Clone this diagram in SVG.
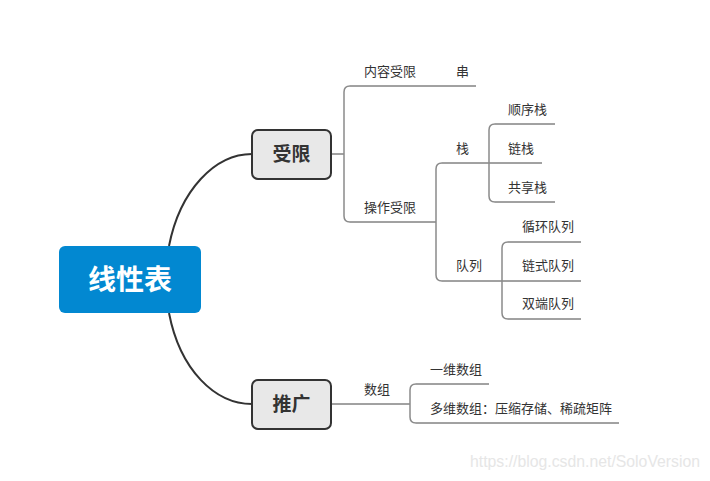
<svg xmlns="http://www.w3.org/2000/svg" width="710" height="481" viewBox="0 0 710 481">
<style>
.t{font-family:"Noto Sans CJK SC","Liberation Sans",sans-serif;font-size:13px;fill:#333}
.b{fill:none;stroke:#8a8a8a;stroke-width:1.5}
.h{fill:none;stroke:#444;stroke-width:1}
.c{fill:none;stroke:#333;stroke-width:2}
.sub{fill:#e8e8e8;stroke:#333;stroke-width:2}
.st{font-family:"Noto Sans CJK SC","Liberation Sans",sans-serif;font-size:19px;font-weight:bold;fill:#333}
</style>
<rect width="710" height="481" fill="#fff"/>
<g id="connectors">
<path class="c" d="M169,246 C180,190 215,154 252,154"/>
<path class="c" d="M169,313 C180,370 215,404 252,404"/>
<line class="h" x1="331" y1="154" x2="344" y2="154"/>
<line class="h" x1="331" y1="404" x2="410" y2="404"/>
<path class="b" d="M350,86 Q344,86 344,92 L344,216 Q344,222 350,222"/>
<line class="h" x1="350" y1="86" x2="476" y2="86"/>
<line class="h" x1="350" y1="222" x2="436" y2="222"/>
<path class="b" d="M442,163 Q436,163 436,169 L436,275 Q436,281 442,281"/>
<line class="h" x1="442" y1="163" x2="542" y2="163"/>
<line class="h" x1="442" y1="281" x2="581" y2="281"/>
<path class="b" d="M495,124 Q489,124 489,130 L489,196 Q489,202 495,202"/>
<line class="h" x1="495" y1="124" x2="555" y2="124"/>
<line class="h" x1="495" y1="202" x2="555" y2="202"/>
<path class="b" d="M508,242 Q502,242 502,248 L502,313 Q502,319 508,319"/>
<line class="h" x1="508" y1="242" x2="581" y2="242"/>
<line class="h" x1="508" y1="319" x2="581" y2="319"/>
<path class="b" d="M416,384 Q410,384 410,390 L410,417 Q410,423 416,423"/>
<line class="h" x1="416" y1="384" x2="489" y2="384"/>
<line class="h" x1="416" y1="423" x2="619" y2="423"/>
</g>
<g id="root">
<rect x="59" y="246" width="142" height="67" rx="6" fill="#0288d1"/>
<text x="130" y="290" text-anchor="middle" font-family="Noto Sans CJK SC,Liberation Sans,sans-serif" font-size="28" font-weight="bold" fill="#fff">线性表</text>
</g>
<g id="n-shouxian">
<rect class="sub" x="252" y="130" width="79" height="49" rx="6"/>
<text class="st" x="291.5" y="161" text-anchor="middle">受限</text>
</g>
<g id="n-tuiguang">
<rect class="sub" x="252" y="380" width="79" height="49" rx="6"/>
<text class="st" x="291.5" y="411" text-anchor="middle">推广</text>
</g>
<g id="n-neirong"><text class="t" x="364" y="76">内容受限</text></g>
<g id="n-chuan"><text class="t" x="456" y="76">串</text></g>
<g id="n-caozuo"><text class="t" x="364" y="212">操作受限</text></g>
<g id="n-zhan"><text class="t" x="456" y="153">栈</text></g>
<g id="n-duilie"><text class="t" x="456" y="270">队列</text></g>
<g id="n-shunxu"><text class="t" x="508" y="114">顺序栈</text></g>
<g id="n-lianzhan"><text class="t" x="508" y="153">链栈</text></g>
<g id="n-gongxiang"><text class="t" x="508" y="192">共享栈</text></g>
<g id="n-xunhuan"><text class="t" x="522" y="231">循环队列</text></g>
<g id="n-lianshi"><text class="t" x="522" y="270">链式队列</text></g>
<g id="n-shuangduan"><text class="t" x="522" y="308">双端队列</text></g>
<g id="n-shuzu"><text class="t" x="364" y="394">数组</text></g>
<g id="n-yiwei"><text class="t" x="430" y="374">一维数组</text></g>
<g id="n-duowei"><text class="t" x="430" y="413">多维数组：压缩存储、稀疏矩阵</text></g>
<text x="470" y="467" font-family="Liberation Sans,sans-serif" font-size="15.8" fill="#e6e6e6">https://blog.csdn.net/SoloVersion</text>
</svg>
